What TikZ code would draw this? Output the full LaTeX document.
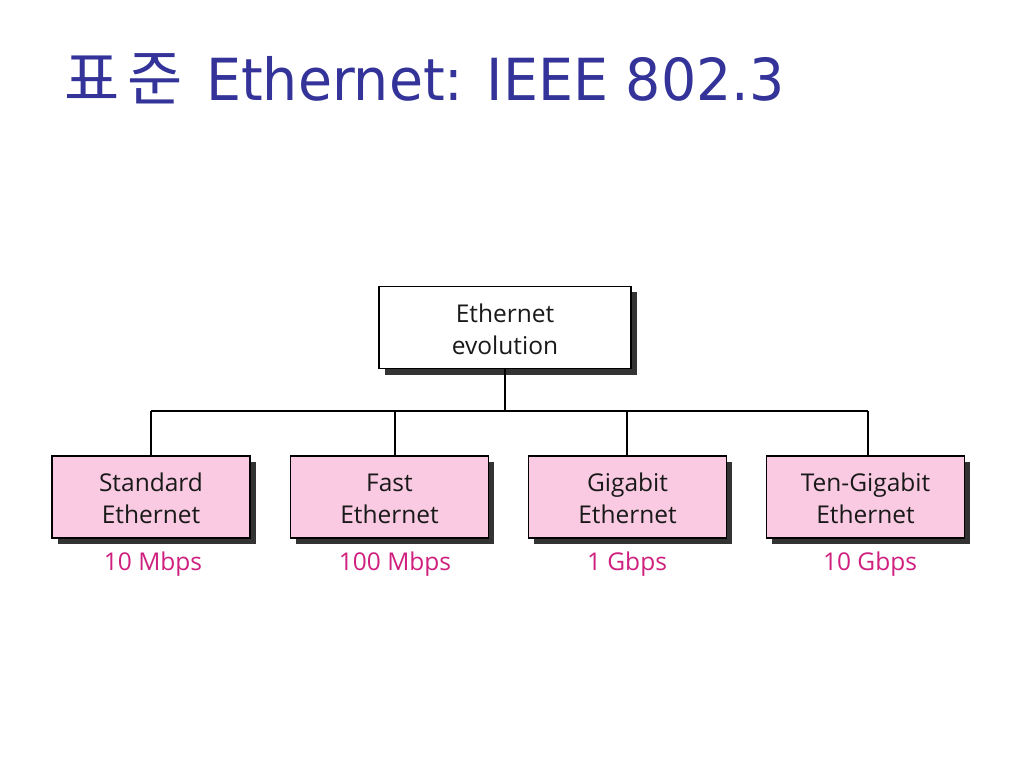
\documentclass[tikz,border=0pt]{standalone}
\usepackage{fontspec}
\setmainfont{Open Sans}
\newfontfamily\titlefont{DejaVu Sans}
\newfontfamily\cjkfont{Noto Sans CJK KR}
\definecolor{titleblue}{HTML}{333399}
\definecolor{boxpink}{HTML}{F9CAE1}
\definecolor{ratepink}{HTML}{D0207F}
\definecolor{shadowgray}{HTML}{333333}
\newcommand{\lt}{\rule{0pt}{26pt}}
\newcommand{\lb}{\rule[-5pt]{0pt}{5pt}}
\begin{document}
\begin{tikzpicture}[x=1pt,y=-1pt,
  boxbase/.style={draw=black,line width=1.4pt,minimum height=82pt,align=center,
    font=\fontsize{24.5}{32}\selectfont,text=black!90,inner sep=0pt},
  topbox/.style={boxbase,fill=white,minimum width=252pt},
  kindbox/.style={boxbase,fill=boxpink,minimum width=198pt},
  ratelabel/.style={text=ratepink,font=\fontsize{24.5}{28}\selectfont},
  titletext/.style={text=titleblue,inner sep=0pt},
  treeline/.style={draw=black,line width=1.8pt}]
\useasboundingbox (0,0) rectangle (1024,768);
\fill[white] (0,0) rectangle (1024,768);
% title
\node[titletext,anchor=base west] (kor1) at (64,100) {\cjkfont\fontsize{60}{60}\selectfont 표};
\node[titletext,anchor=base west] (kor2) at (127,100) {\cjkfont\fontsize{60}{60}\selectfont 준};
\node[titletext,anchor=base west] (title) at (206,100)
  {\scalebox{0.955}[1]{\titlefont\fontsize{58}{60}\selectfont Ethernet: IEEE 802.3}};
% shadows
\fill[shadowgray] (385,292) rectangle (637,375);
\foreach \x in {52,290,528,766}{
  \fill[shadowgray] (\x+6,462) rectangle (\x+204,544);
}
% boxes
\node[topbox] (root) at (505,327.5) {\lt Ethernet\\\lb evolution};
\node[kindbox] (std) at (151,497) {\lt Standard\\\lb Ethernet};
\node[kindbox] (fast) at (389.5,497) {\lt Fast\\\lb Ethernet};
\node[kindbox] (giga) at (627.5,497) {\lt Gigabit\\\lb Ethernet};
\node[kindbox] (tengiga) at (865.5,497) {\lt Ten-Gigabit\\\lb Ethernet};
% tree
\coordinate (bus) at (505,411);
\draw[treeline] (root.south) -- (bus);
\draw[treeline] (151,411) -- (868,411);
\draw[treeline] (std.north) -- (std.north |- bus);
\draw[treeline] (395,456) -- (395,411);
\draw[treeline] (627,456) -- (627,411);
\draw[treeline] (868,456) -- (868,411);
% rates
\node[ratelabel] (r1) at (153,564) {10 Mbps};
\node[ratelabel] (r2) at (395,564) {100 Mbps};
\node[ratelabel] (r3) at (627,564) {1 Gbps};
\node[ratelabel] (r4) at (870,564) {10 Gbps};
\end{tikzpicture}
\end{document}
